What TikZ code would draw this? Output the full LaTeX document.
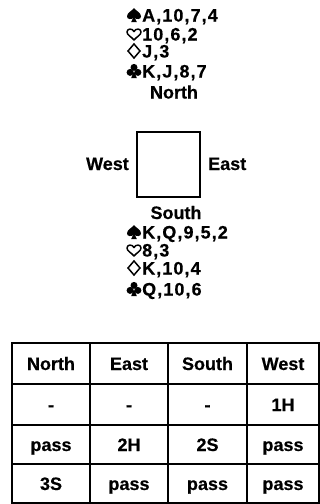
\documentclass[tikz,border=0pt]{standalone}
\usepackage{fontspec}
\setmainfont{Liberation Sans}[BoldFeatures={FakeBold=0.4}]
\newfontfamily\handfont{Liberation Sans}[LetterSpace=6,BoldFeatures={FakeBold=0.4}]
\begin{document}
\begin{tikzpicture}[x=1pt,y=-1pt,
  every node/.style={inner sep=0pt, font=\fontsize{18}{18}\selectfont\bfseries},
  card/.style={anchor=base west, font=\fontsize{18}{18}\handfont\bfseries},
  lbl/.style={anchor=base},
  cell/.style={anchor=base},
  grid/.style={line width=1.6pt},
  frame/.style={line width=2.6pt},
  spade/.pic={
    \fill (0,-7) .. controls (-2,-4) and (-7,-2.5) .. (-7,1.5)
          .. controls (-7,4.5) and (-2.5,5) .. (0,2.5)
          .. controls (2.5,5) and (7,4.5) .. (7,1.5)
          .. controls (7,-2.5) and (2,-4) .. (0,-7) -- cycle;
    \fill (0,1) -- (-2.8,7) -- (2.8,7) -- cycle;},
  heart/.pic={
    \draw[line width=1.5pt, line join=round]
      (0,-2.5) .. controls (-1.5,-5.8) and (-7,-5.8) .. (-7,-2)
      .. controls (-7,1) and (-3,2.5) .. (0,6)
      .. controls (3,2.5) and (7,1) .. (7,-2)
      .. controls (7,-5.8) and (1.5,-5.8) .. (0,-2.5) -- cycle;},
  diamond/.pic={
    \draw[line width=1.5pt, line join=miter]
      (0,-7) -- (6,0) -- (0,7) -- (-6,0) -- cycle;},
  club/.pic={
    \fill (0,-3.6) circle (3.5);
    \fill (-3.9,1.4) circle (3.5);
    \fill (3.9,1.4) circle (3.5);
    \fill (0,0) -- (-2.8,7) -- (2.8,7) -- cycle;}]
\useasboundingbox (0,0) rectangle (320,504);

% North hand
\pic at (134,15) {spade};
\node[card] (nsc) at (142,21.5) {A,10,7,4};
\pic at (134,34) {heart};
\node[card] (nhc) at (142,40.5) {10,6,2};
\pic at (134,51) {diamond};
\node[card] (ndc) at (142,57.5) {J,3};
\pic at (134,71) {club};
\node[card] (ncc) at (142,77.5) {K,J,8,7};

% compass
\node[lbl] (north) at (174,98.5) {North};
\draw[line width=1.4pt] (137,132) rectangle (200,197);
\node[anchor=base east] (west) at (129,170) {West};
\node[anchor=base west] (east) at (208,170) {East};
\node[lbl] (south) at (176,219) {South};

% South hand
\pic at (134,232) {spade};
\node[card] (ssc) at (142,238.5) {K,Q,9,5,2};
\pic at (134,250) {heart};
\node[card] (shc) at (142,256.5) {8,3};
\pic at (134,268) {diamond};
\node[card] (sdc) at (142,274.5) {K,10,4};
\pic at (134,289) {club};
\node[card] (scc) at (142,295.5) {Q,10,6};

% bidding table
\foreach \x in {90,168,247} \draw[grid] (\x,343) -- (\x,503);
\foreach \y in {384,425,464} \draw[grid] (12,\y) -- (319,\y);
\draw[frame] (12,343) rectangle (319,503);

\node[cell] (h1) at (51,370) {North};
\node[cell] (h2) at (129,370) {East};
\node[cell] (h3) at (207.5,370) {South};
\node[cell] (h4) at (283,370) {West};

\node[cell] (a1) at (51,411) {-};
\node[cell] (a2) at (129,411) {-};
\node[cell] (a3) at (207.5,411) {-};
\node[cell] (a4) at (283,411) {1H};

\node[cell] (b1) at (51,451) {pass};
\node[cell] (b2) at (129,451) {2H};
\node[cell] (b3) at (207.5,451) {2S};
\node[cell] (b4) at (283,451) {pass};

\node[cell] (c1) at (51,490) {3S};
\node[cell] (c2) at (129,490) {pass};
\node[cell] (c3) at (207.5,490) {pass};
\node[cell] (c4) at (283,490) {pass};
\end{tikzpicture}
\end{document}
